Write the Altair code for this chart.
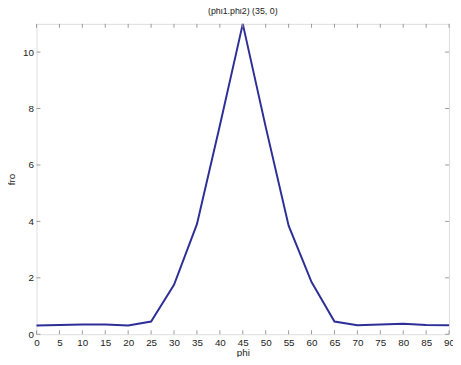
import altair as alt
import pandas as pd

phi = [0, 5, 10, 15, 20, 25, 30, 35, 40, 45, 50, 55, 60, 65, 70, 75, 80, 85, 90]
fro = [0.31, 0.33, 0.35, 0.35, 0.31, 0.45, 1.75, 3.9, 7.4, 11.0, 7.35, 3.85, 1.85, 0.45, 0.32, 0.35, 0.37, 0.33, 0.32]
x_ticks = list(range(0, 95, 5))
y_ticks = [0, 2, 4, 6, 8, 10]

df = pd.DataFrame({"phi": phi, "fro": fro})
W, H = 420, 316

xs = alt.Scale(domain=[0, 90], nice=False)
ys = alt.Scale(domain=[0, 11], nice=False)

xaxis = alt.Axis(values=x_ticks, tickSize=0, labelPadding=3, domain=False, grid=False,
                 labelFontSize=10, titleFontSize=10, titleFontWeight="normal", titlePadding=1,
                 labelColor="#222", titleColor="#222", labelFlush=False, labelOverlap=False)
yaxis = alt.Axis(values=y_ticks, tickSize=0, labelPadding=3, domain=False, grid=False,
                 labelFontSize=10, titleFontSize=10, titleFontWeight="normal", titlePadding=6,
                 labelColor="#222", titleColor="#222", labelOverlap=False)

line = alt.Chart(df).mark_line(color="#2e2f96", strokeWidth=2).encode(
    x=alt.X("phi:Q", scale=xs, title="phi", axis=xaxis),
    y=alt.Y("fro:Q", scale=ys, title="fro", axis=yaxis),
)

xt = pd.DataFrame({"t": x_ticks})
yt = pd.DataFrame({"t": y_ticks})
tick_col = "#999999"
xb = alt.Chart(xt).mark_rule(color=tick_col, strokeWidth=1).encode(
    x=alt.X("t:Q", scale=xs, title="phi", axis=xaxis), y=alt.value(H), y2=alt.value(H - 4))
xtop = alt.Chart(xt).mark_rule(color=tick_col, strokeWidth=1).encode(
    x=alt.X("t:Q", scale=xs, title="phi", axis=xaxis), y=alt.value(0), y2=alt.value(4))
yl = alt.Chart(yt).mark_rule(color=tick_col, strokeWidth=1).encode(
    y=alt.Y("t:Q", scale=ys, title="fro", axis=yaxis), x=alt.value(0), x2=alt.value(4))
yr = alt.Chart(yt).mark_rule(color=tick_col, strokeWidth=1).encode(
    y=alt.Y("t:Q", scale=ys, title="fro", axis=yaxis), x=alt.value(W), x2=alt.value(W - 4))

chart = alt.layer(line, xb, xtop, yl, yr).properties(
    width=W, height=H,
    title=alt.TitleParams("(phi1.phi2) (35, 0)", fontSize=9, fontWeight="normal", color="#222", offset=4),
    autosize=alt.AutoSizeParams(type="none"),
    padding={"left": 29, "top": 13, "right": 4, "bottom": 20},
).configure_view(stroke="#888888", strokeWidth=1).configure(font="Liberation Sans")

chart.save("out.html", embed_options={"renderer": "svg", "actions": False})
